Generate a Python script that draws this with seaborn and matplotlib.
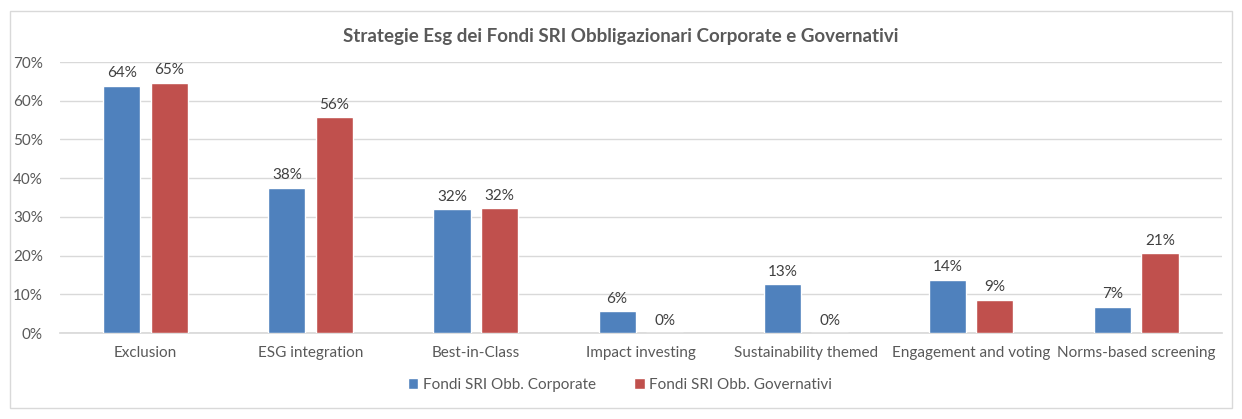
import pandas as pd
import numpy as np
import matplotlib.pyplot as plt
import seaborn as sns
from matplotlib.patches import Rectangle

# Data (share of funds, %)
categories = ["Exclusion", "ESG integration", "Best-in-Class", "Impact investing",
              "Sustainability themed", "Engagement and voting", "Norms-based screening"]
corporate = [63.8, 37.5, 32.0, 5.6, 12.6, 13.8, 6.8]
governativi = [64.7, 55.7, 32.2, 0.0, 0.0, 8.6, 20.6]
series_names = ["Fondi SRI Obb. Corporate", "Fondi SRI Obb. Governativi"]

df = pd.DataFrame({
    "Strategia": categories * 2,
    "Valore": corporate + governativi,
    "Serie": [series_names[0]] * len(categories) + [series_names[1]] * len(categories),
})

sns.set_theme(style="white")
plt.rcParams['font.family'] = ['Lato', 'DejaVu Sans']

fig = plt.figure(figsize=(12.42, 4.19), dpi=100)
ax = fig.add_axes([0.048, 0.205, 0.936, 0.647])

palette = {series_names[0]: "#4F81BD", series_names[1]: "#C0504D"}
sns.barplot(data=df, x="Strategia", y="Valore", hue="Serie", palette=palette,
            order=categories, hue_order=series_names, width=0.576, gap=0.22,
            saturation=1, ax=ax, zorder=3)

for cont in ax.containers:
    ax.bar_label(cont, labels=[f"{v:.0f}%" for v in cont.datavalues], padding=4,
                 fontsize=11, color="#404040")

ax.set_ylim(0, 70)
ax.set_xlim(-0.52, 6.52)
ax.set_yticks(range(0, 71, 10))
ax.set_yticklabels([f"{v}%" for v in range(0, 71, 10)])
ax.yaxis.grid(True, color="#D9D9D9", linewidth=1, zorder=0)
ax.set_axisbelow(True)
ax.tick_params(axis="both", length=0, labelsize=11, labelcolor="#595959")
ax.tick_params(axis="x", pad=9)
ax.tick_params(axis="y", pad=12)
ax.set_xlabel("")
ax.set_ylabel("")
for s in ["left", "right", "top"]:
    ax.spines[s].set_visible(False)
ax.spines["bottom"].set_color("#D9D9D9")

ax.legend(loc="center", bbox_to_anchor=(0.482, -0.19), ncol=2, frameon=False,
          fontsize=11, labelcolor="#595959", handlelength=0.7, handleheight=0.7,
          handletextpad=0.3, columnspacing=2.5)

fig.text(0.500, 0.914, "Strategie Esg dei Fondi SRI Obbligazionari Corporate e Governativi",
         ha="center", va="center", fontsize=13.5, fontweight="bold", color="#595959")

fig.patches.append(Rectangle((10 / 1242, 11 / 419), 1222 / 1242, 397 / 419,
                             transform=fig.transFigure, fill=False,
                             edgecolor="#D9D9D9", linewidth=1))

fig.savefig("out.png", dpi=100)
